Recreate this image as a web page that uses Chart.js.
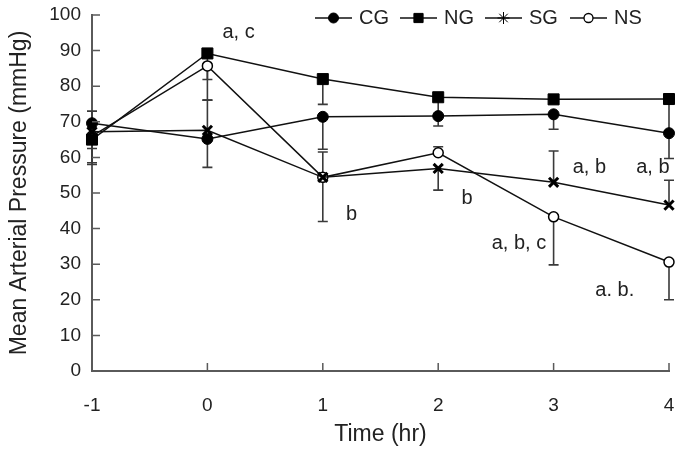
<!DOCTYPE html>
<html lang="en">
<head>
    <meta charset="UTF-8">
    <title>Mean Arterial Pressure</title>
    <style>
        body {
            margin: 0;
            padding: 0;
            background-color: white;
        }

        #wrap {
            width: 682px;
            height: 449px;
            position: relative;
        }
    </style>
</head>
<body>
    <div id="wrap">
        <canvas id="myChart" width="682" height="449"></canvas>
    </div>

    <script src="https://cdn.jsdelivr.net/npm/chart.js"></script>
    <script>
        // time points (hr)
        const times = [-1, 0, 1, 2, 3, 4];
        const xTicks = [-1, 0, 1, 2, 3, 4];
        const yTicks = [0, 10, 20, 30, 40, 50, 60, 70, 80, 90, 100];

        // mean arterial pressure (mmHg)
        const cgValues = [69.6, 65.2, 71.4, 71.6, 72.1, 66.8];
        const ngValues = [65.0, 89.2, 82.0, 76.9, 76.3, 76.4];
        const sgValues = [67.2, 67.6, 54.4, 56.9, 53.0, 46.6];
        const nsValues = [66.0, 85.7, 54.4, 61.3, 43.3, 30.6];

        // one-sided error bars: positive goes up, negative goes down
        const cgErr = [3.4, -8.0, -9.1, -2.8, -4.2, -7.1];
        const ngErr = [-6.5, -7.3, -7.1, -5.0, 0, -9.0];
        const sgErr = [-4.7, 8.5, 7.1, -6.1, 8.8, 7.0];
        const nsErr = [-8.0, -9.6, -12.4, 1.7, -13.5, -10.6];

        // significance marks
        const markText = ['a, c', 'b', 'b', 'a, b', 'a, b', 'a, b, c', 'a. b.'];
        const markX = [0.27, 1.25, 2.25, 3.31, 3.86, 2.7, 3.53];
        const markY = [95.2, 44.0, 48.4, 57.2, 57.2, 35.8, 22.6];

        const FONT = "'Liberation Sans', Arial, sans-serif";

        function toPoints(vals) {
            return times.map((t, i) => ({ x: t, y: vals[i] }));
        }

        const seriesDefs = [
            { label: 'CG', values: cgValues, err: cgErr, style: 'circle', radius: 5.5, fill: '#000', bw: 1 },
            { label: 'NG', values: ngValues, err: ngErr, style: 'rect', radius: 7.8, fill: '#000', bw: 1 },
            { label: 'SG', values: sgValues, err: sgErr, style: 'crossRot', radius: 6.5, fill: '#000', bw: 3 },
            { label: 'NS', values: nsValues, err: nsErr, style: 'circle', radius: 5, fill: '#fff', bw: 1.5 }
        ];

        const datasets = seriesDefs.map(s => ({
            label: s.label,
            data: toPoints(s.values),
            borderColor: '#111',
            borderWidth: 1.5,
            pointStyle: s.style,
            pointRadius: s.radius,
            pointBackgroundColor: s.fill,
            pointBorderColor: '#000',
            pointBorderWidth: s.bw,
            clip: false,
            tension: 0
        }));

        // error bars, drawn under the markers
        const errorBars = {
            id: 'errorBars',
            beforeDatasetsDraw(chart) {
                const { ctx, scales: { x, y } } = chart;
                ctx.save();
                ctx.strokeStyle = '#3a3a3a';
                ctx.lineWidth = 1.6;
                seriesDefs.forEach(s => {
                    s.values.forEach((v, i) => {
                        if (!s.err[i]) return;
                        const px = x.getPixelForValue(times[i]);
                        const py0 = y.getPixelForValue(v);
                        const py1 = y.getPixelForValue(v + s.err[i]);
                        ctx.beginPath();
                        ctx.moveTo(px, py0);
                        ctx.lineTo(px, py1);
                        ctx.moveTo(px - 5, py1);
                        ctx.lineTo(px + 5, py1);
                        ctx.stroke();
                    });
                });
                ctx.restore();
            }
        };

        // inward tick marks
        const innerTicks = {
            id: 'innerTicks',
            afterDraw(chart) {
                const { ctx, chartArea, scales: { x, y } } = chart;
                ctx.save();
                ctx.strokeStyle = '#5a5a5a';
                ctx.lineWidth = 1.5;
                ctx.beginPath();
                yTicks.forEach(v => {
                    const py = y.getPixelForValue(v);
                    ctx.moveTo(chartArea.left, py);
                    ctx.lineTo(chartArea.left + 8, py);
                });
                xTicks.forEach(v => {
                    const px = x.getPixelForValue(v);
                    ctx.moveTo(px, chartArea.bottom);
                    ctx.lineTo(px, chartArea.bottom - 8);
                });
                ctx.stroke();
                ctx.restore();
            }
        };

        // significance letters
        const marks = {
            id: 'marks',
            afterDraw(chart) {
                const { ctx, scales: { x, y } } = chart;
                ctx.save();
                ctx.fillStyle = '#222';
                ctx.font = '20px ' + FONT;
                ctx.textAlign = 'center';
                ctx.textBaseline = 'middle';
                markText.forEach((t, i) => {
                    ctx.fillText(t, x.getPixelForValue(markX[i]), y.getPixelForValue(markY[i]));
                });
                ctx.restore();
            }
        };

        // legend with a line through each marker
        const lineLegend = {
            id: 'lineLegend',
            afterDraw(chart) {
                const ctx = chart.ctx;
                const items = [
                    { x0: 315, style: 'circle', r: 5, fill: '#000', bw: 1 },
                    { x0: 400, style: 'rect', r: 6.5, fill: '#000', bw: 1 },
                    { x0: 485, style: 'star', r: 6, fill: '#000', bw: 1 },
                    { x0: 570, style: 'circle', r: 4.5, fill: '#fff', bw: 1.3 }
                ];
                const yMid = 18;
                ctx.save();
                items.forEach((it, i) => {
                    ctx.strokeStyle = '#111';
                    ctx.lineWidth = 1.5;
                    ctx.beginPath();
                    ctx.moveTo(it.x0, yMid);
                    ctx.lineTo(it.x0 + 37, yMid);
                    ctx.stroke();
                    ctx.fillStyle = it.fill;
                    ctx.strokeStyle = '#000';
                    ctx.lineWidth = it.bw;
                    Chart.helpers.drawPoint(ctx, { pointStyle: it.style, radius: it.r, borderWidth: it.bw }, it.x0 + 18.5, yMid);
                    ctx.fillStyle = '#222';
                    ctx.font = '20px ' + FONT;
                    ctx.textAlign = 'left';
                    ctx.textBaseline = 'middle';
                    ctx.fillText(seriesDefs[i].label, it.x0 + 44, yMid);
                });
                ctx.restore();
            }
        };

        const ctx = document.getElementById('myChart').getContext('2d');

        const options = {
            responsive: false,
            animation: false,
            layout: {
                padding: { top: 15, right: 13, left: 0, bottom: 0 }
            },
            plugins: {
                legend: { display: false },
                tooltip: { enabled: false }
            },
            scales: {
                x: {
                    type: 'linear',
                    min: -1,
                    max: 4,
                    afterFit: s => {
                        s.height = 78;
                        s.paddingLeft = 0;
                        s.paddingRight = 0;
                    },
                    afterBuildTicks: s => { s.ticks = xTicks.map(v => ({ value: v })); },
                    grid: { display: false, drawTicks: false },
                    border: { display: true, color: '#5a5a5a', width: 2 },
                    ticks: {
                        color: '#222',
                        padding: 23,
                        font: { family: FONT, size: 19 }
                    },
                    title: {
                        display: true,
                        text: 'Time (hr)',
                        color: '#222',
                        padding: { top: 0, bottom: 1 },
                        font: { family: FONT, size: 23 }
                    }
                },
                y: {
                    type: 'linear',
                    min: 0,
                    max: 100,
                    afterFit: s => {
                        s.width = 92;
                        s.paddingTop = 0;
                        s.paddingBottom = 0;
                    },
                    afterBuildTicks: s => { s.ticks = yTicks.map(v => ({ value: v })); },
                    grid: { display: false, drawTicks: false },
                    border: { display: true, color: '#5a5a5a', width: 2 },
                    ticks: {
                        color: '#222',
                        padding: 11,
                        font: { family: FONT, size: 19 }
                    },
                    title: {
                        display: true,
                        text: 'Mean Arterial Pressure (mmHg)',
                        color: '#222',
                        padding: { top: 6, bottom: 0 },
                        font: { family: FONT, size: 23 }
                    }
                }
            }
        };

        let chart = new Chart(ctx, {
            type: 'line',
            data: { datasets: datasets },
            options: options,
            plugins: [errorBars, innerTicks, marks, lineLegend]
        });
    </script>
</body>
</html>
